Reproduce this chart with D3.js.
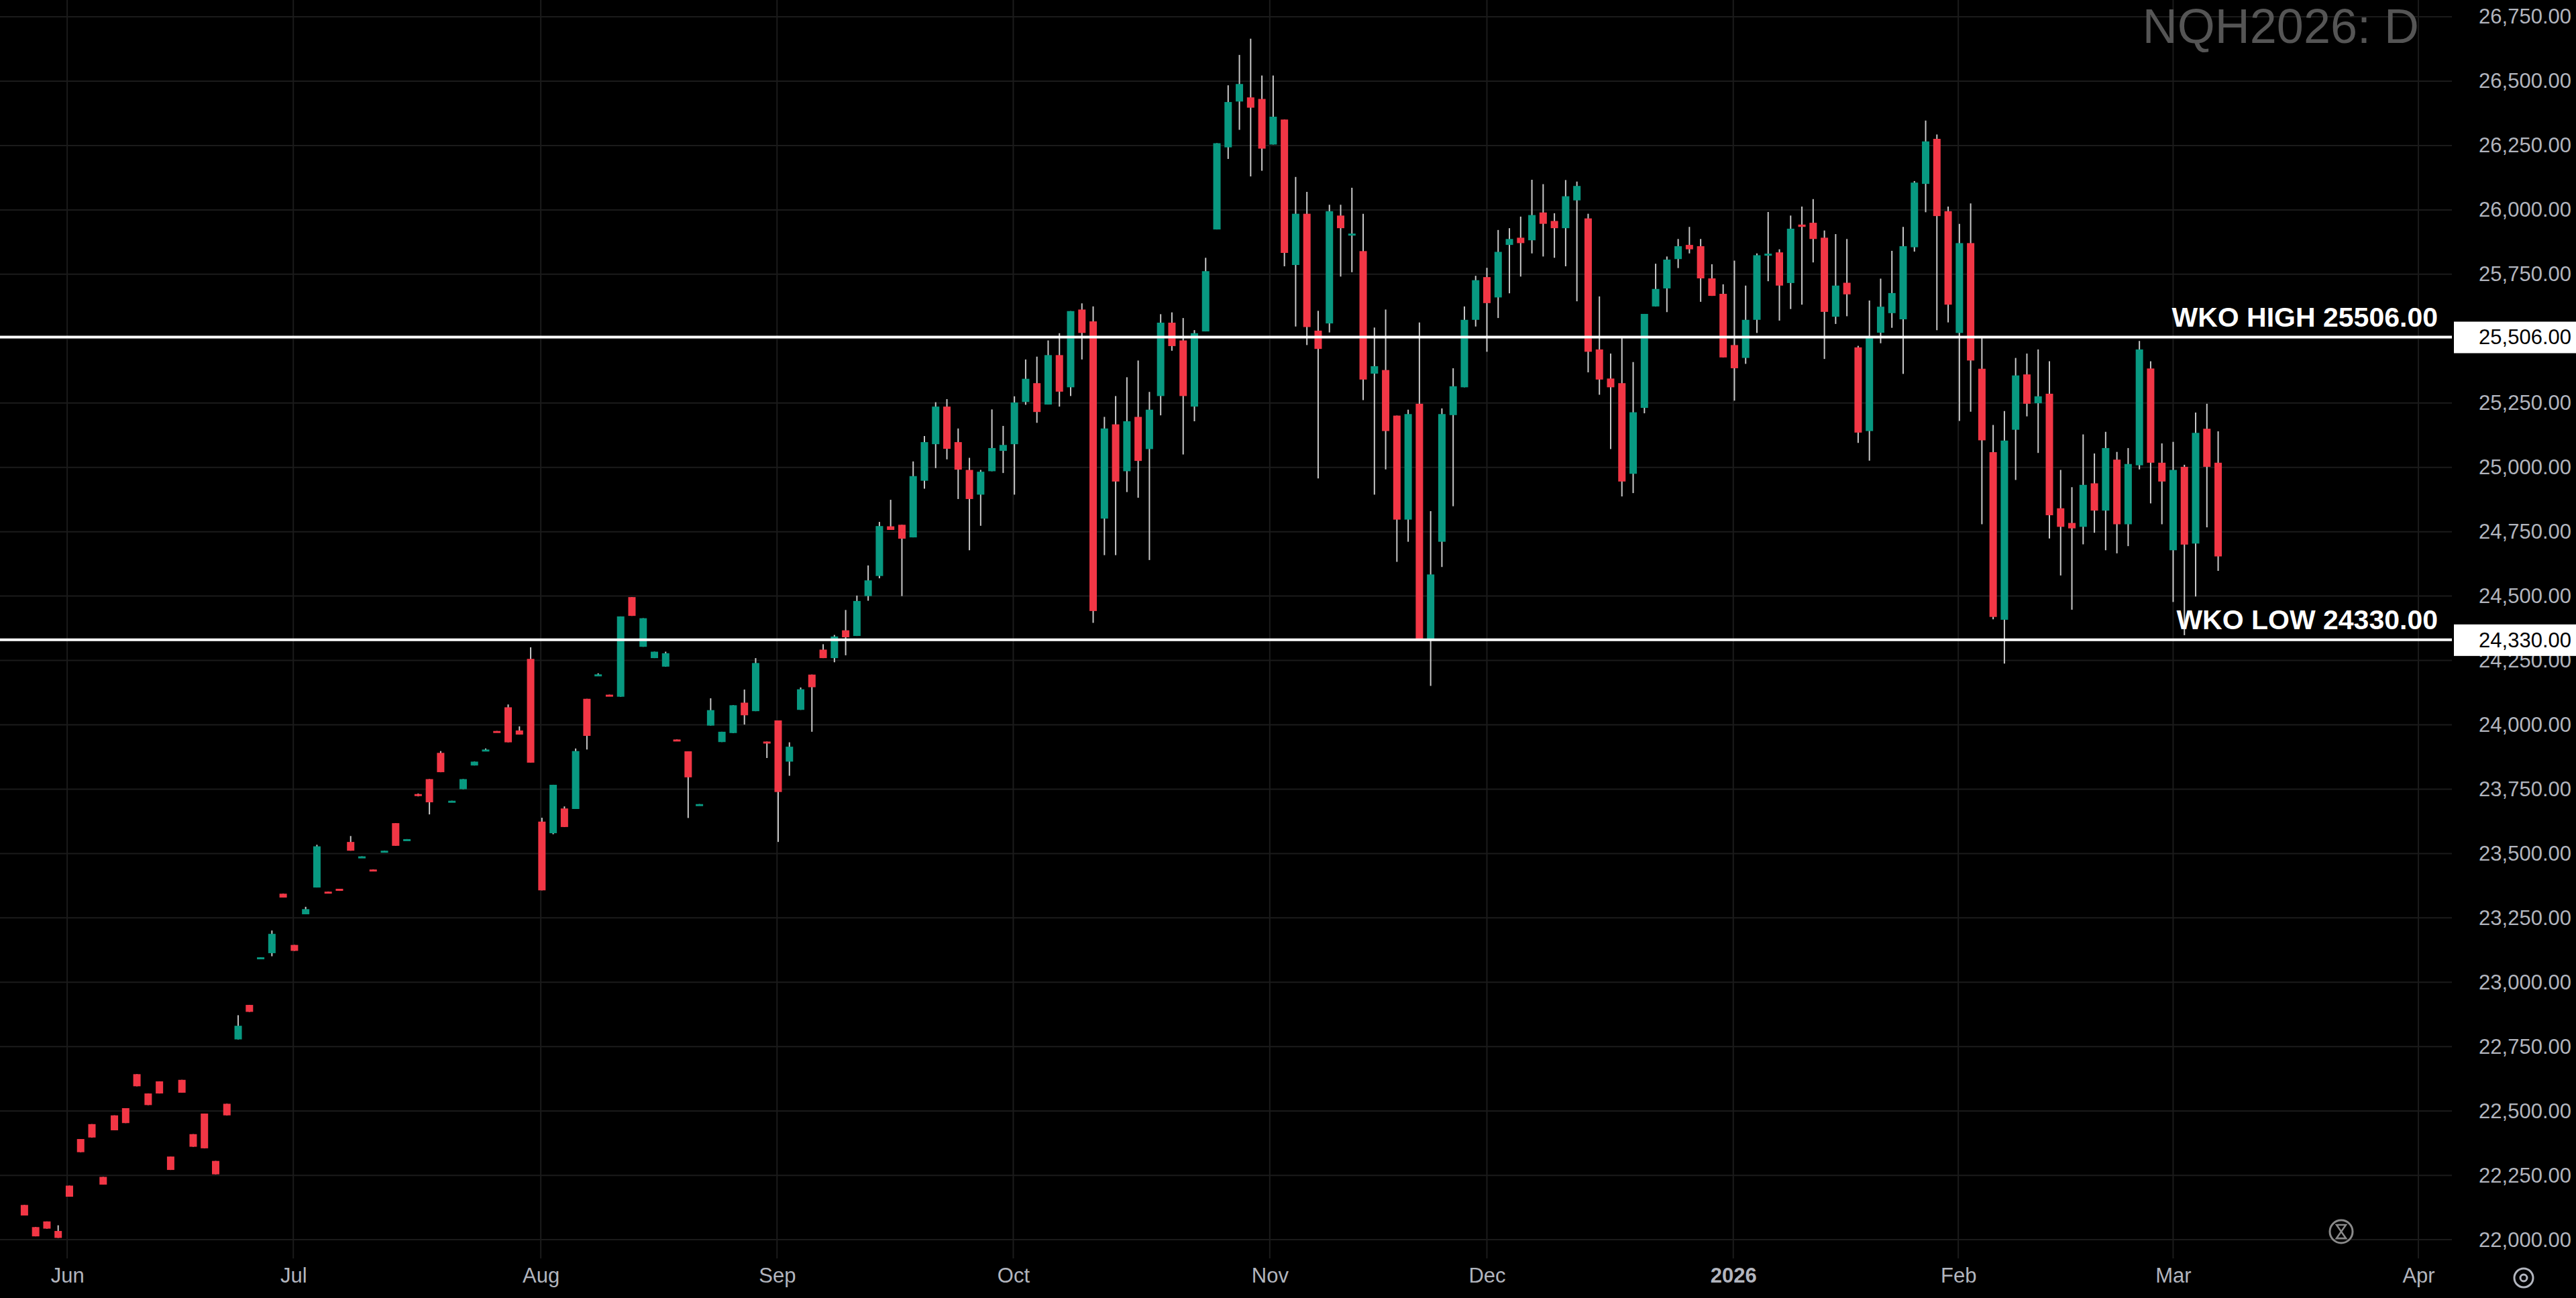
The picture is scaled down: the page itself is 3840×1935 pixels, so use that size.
<!DOCTYPE html>
<html>
<head>
<meta charset="utf-8">
<script src="https://cdn.jsdelivr.net/npm/d3@7"></script>
<style>
  html, body { margin: 0; padding: 0; background: #000; overflow: hidden; }
  svg { display: block; }
</style>
</head>
<body>
<svg id="chart" width="3840" height="1935"></svg>
<script>
// daily bars, NQH2026 (index 0 = first visible bar)
const opens = [22135,22049,22071,22034,22210,22391,22449,22244,22483,22511,22643,22568,22615,22323,22621,22410,22490,22306,22528,22778,
  22912,23094,23113,23344,23145,23264,23368,23352,23363,23545,23485,23438,23507,23618,23552,23731,23789,23891,23701,23750,
  23842,23900,23976,24068,23978,24256,23624,23579,23675,23673,24101,24192,24117,24109,24496,24303,24259,24226,23943,23897,
  23688,23997,23933,23968,24086,24053,23935,24017,23857,24058,24195,24292,24259,24367,24345,24500,24578,24771,24777,24728,
  24948,25090,25236,25098,24990,24894,24985,25064,25090,25254,25327,25244,25436,25311,25613,25567,24801,25167,24985,25196,
  25071,25277,25562,25493,25236,25528,25924,26243,26421,26437,26431,26254,26351,25786,25985,25531,25559,25978,25904,25840,
  25364,25378,25201,24797,25247,24329,24711,25203,25311,25573,25739,25660,25864,25892,25882,25990,25957,25929,26037,25967,
  25458,25345,25327,24975,25231,25625,25695,25809,25864,25859,25734,25674,25475,25425,25573,25826,25835,25716,25943,25950,
  25892,25585,25717,25466,25141,25523,25599,25575,25855,26101,26276,25995,25522,25871,25383,25059,24408,25146,25361,25249,
  25286,24841,24784,24769,24938,24832,25030,24779,25008,25384,25018,24678,25002,24704,25150,25018];
const highs = [22135,22049,22071,22056,22210,22391,22449,22244,22483,22511,22643,22568,22615,22323,22621,22410,22490,22306,22528,22872,
  22912,23097,23201,23344,23145,23293,23534,23352,23363,23568,23489,23438,23511,23618,23556,23733,23789,23898,23705,23789,
  23857,23908,23976,24079,23994,24301,23639,23767,23683,23908,24101,24200,24117,24421,24496,24414,24284,24284,23943,23897,
  23692,24103,23973,24076,24137,24259,23935,24017,23932,24145,24195,24313,24349,24446,24502,24619,24788,24874,24777,25023,
  25122,25253,25265,25151,25037,24990,25225,25161,25276,25419,25430,25493,25521,25607,25637,25625,25196,25277,25350,25415,
  25293,25595,25602,25580,25533,25814,26259,26484,26602,26665,26522,26522,26351,26128,26070,25608,26020,26020,26086,25985,
  25543,25613,25201,25224,25563,24830,25229,25385,25625,25744,25775,25922,25929,25974,26117,26100,25987,26116,26110,25985,
  25664,25442,25507,25409,25596,25791,25819,25887,25934,25887,25789,25711,25803,25706,25831,25992,25847,25978,26013,26042,
  25920,25906,25887,25472,25648,25733,25841,25934,26112,26347,26293,26013,25946,26025,25509,25165,25219,25425,25442,25458,
  25412,24990,24923,25128,25054,25138,25060,25075,25491,25412,25093,25099,25010,25213,25247,25140];
const lows = [22094,22013,22043,22007,22167,22340,22397,22214,22425,22453,22596,22523,22568,22271,22571,22361,22355,22254,22483,22778,
  22885,23094,23101,23329,23122,23264,23368,23346,23355,23511,23485,23434,23507,23530,23552,23722,23652,23816,23701,23750,
  23842,23900,23972,23932,23962,23853,23357,23575,23603,23673,23904,24190,24113,24109,24423,24303,24259,24226,23939,23638,
  23688,23997,23933,23968,24001,24053,23871,23545,23802,24058,23973,24259,24243,24270,24345,24482,24569,24757,24500,24728,
  24917,24997,25031,24877,24678,24773,24985,24978,24894,25243,25173,25244,25236,25277,25419,24396,24659,24659,24904,24882,
  24640,25202,25453,25050,25179,25528,25924,26198,26311,26130,26152,26254,25781,25547,25475,24957,25524,25741,25758,25261,
  24894,24992,24633,24711,24329,24151,24613,24849,25311,25547,25449,25580,25676,25741,25831,25819,25814,25781,25645,25369,
  25282,25071,24887,24900,25210,25625,25603,25774,25831,25643,25666,25427,25259,25402,25522,25723,25570,25615,25632,25796,
  25421,25557,25587,25095,25026,25482,25542,25363,25838,25991,25533,25563,25180,25216,24779,24410,24238,24951,25198,25056,
  24724,24580,24447,24701,24746,24678,24666,24694,24992,24860,24779,24477,24348,24498,24767,24598];
const closes = [22094,22013,22043,22007,22167,22340,22397,22214,22425,22453,22596,22523,22568,22271,22571,22361,22355,22254,22483,22831,
  22885,23097,23188,23329,23122,23284,23528,23346,23355,23511,23489,23434,23511,23530,23556,23726,23699,23816,23705,23789,
  23857,23904,23972,23932,23962,23853,23357,23767,23603,23898,23957,24196,24113,24421,24423,24414,24284,24278,23939,23796,
  23692,24057,23973,24076,24037,24240,23931,23739,23915,24138,24146,24259,24343,24340,24481,24561,24772,24757,24723,24966,
  25098,25236,25072,24991,24877,24983,25075,25087,25252,25344,25215,25436,25294,25607,25522,24442,25151,24945,25179,25025,
  25224,25562,25471,25277,25521,25762,26259,26419,26489,26397,26238,26362,25833,25985,25545,25460,25995,25929,25908,25341,
  25393,25141,24797,25207,24329,24584,25207,25315,25573,25727,25638,25837,25887,25871,25980,25946,25929,26053,26093,25449,
  25341,25311,24945,25214,25596,25693,25807,25859,25847,25734,25666,25427,25385,25573,25824,25830,25706,25927,25934,25887,
  25604,25706,25672,25135,25503,25624,25677,25859,26106,26266,25976,25632,25871,25415,25105,24419,25104,25357,25247,25276,
  24814,24769,24763,24932,24832,25075,24779,25013,25458,25018,24945,24990,24700,25134,25002,24654];

const monthLabels = ["Jun","Jul","Aug","Sep","Oct","Nov","Dec","2026","Feb","Mar","Apr"];
const monthTickBars = [3.8, 23.9, 45.9, 66.9, 87.9, 110.7, 130, 151.9, 171.9, 191, 212.8];
const priceTicks = d3.range(22000, 26751, 250);
const levels = [
  { name: "WKO HIGH", price: 25506 },
  { name: "WKO LOW", price: 24330 },
];
const title = "NQH2026: D";

const W = 3840, H = 1935;
const plotRight = 3655, plotBottom = 1876;
const UP = "#089981", DOWN = "#f23645";

const svg = d3.select("#chart");
svg.append("rect").attr("width", W).attr("height", H).attr("fill", "#000");

const x = d3.scaleLinear().domain([0, 195]).range([36.4, 36.4 + 195 * 16.77]);
const y = d3.scaleLinear().domain([22000, 26750]).range([1848.1, 25.06]);

// grid
svg.append("g").selectAll("line").data(priceTicks).join("line")
  .attr("x1", 0).attr("x2", plotRight)
  .attr("y1", d => y(d)).attr("y2", d => y(d))
  .attr("stroke", "#1b1b1b").attr("stroke-width", 2);
svg.append("g").selectAll("line").data(monthTickBars).join("line")
  .attr("x1", d => x(d)).attr("x2", d => x(d))
  .attr("y1", 0).attr("y2", plotBottom)
  .attr("stroke", "#1b1b1b").attr("stroke-width", 2);

// title
svg.append("text")
  .attr("x", 3606).attr("y", 64)
  .attr("text-anchor", "end")
  .attr("font-family", "Liberation Sans, Arial, sans-serif")
  .attr("font-size", 72)
  .attr("fill", "#555555")
  .text(title);

// candles
const bars = d3.range(opens.length);
const candle = svg.append("g").selectAll("g").data(bars).join("g");
candle.append("line")
  .attr("x1", i => x(i)).attr("x2", i => x(i))
  .attr("y1", i => y(highs[i])).attr("y2", i => y(lows[i]))
  .attr("stroke", "#c8c8c8").attr("stroke-width", 2);
candle.append("rect")
  .attr("x", i => x(i) - 5.5)
  .attr("width", 11)
  .attr("y", i => y(Math.max(opens[i], closes[i])))
  .attr("height", i => Math.max(3, Math.abs(y(opens[i]) - y(closes[i]))))
  .attr("fill", i => closes[i] >= opens[i] ? UP : DOWN);

// level lines
const lv = svg.append("g").selectAll("g").data(levels).join("g");
lv.append("line")
  .attr("x1", 0).attr("x2", plotRight)
  .attr("y1", d => y(d.price)).attr("y2", d => y(d.price))
  .attr("stroke", "#fff").attr("stroke-width", 4);
lv.append("text")
  .attr("x", 3634).attr("y", d => y(d.price) - 16)
  .attr("text-anchor", "end")
  .attr("font-family", "Liberation Sans, Arial, sans-serif")
  .attr("font-weight", "bold").attr("font-size", 41)
  .attr("fill", "#fff")
  .text(d => `${d.name} ${d.price.toFixed(2)}`);

// price axis
const yAxis = svg.append("g")
  .attr("transform", "translate(3833,0)")
  .call(d3.axisLeft(y).tickValues(priceTicks).tickSize(0).tickPadding(0)
    .tickFormat(d => d3.format(",.2f")(d)));
yAxis.select(".domain").remove();
yAxis.selectAll("text")
  .attr("font-family", "Liberation Sans, Arial, sans-serif")
  .attr("font-size", 31).attr("fill", "#b2b5be");

// level price boxes on the axis
const tag = svg.append("g").selectAll("g").data(levels).join("g");
tag.append("rect")
  .attr("x", 3658).attr("width", 182)
  .attr("y", d => y(d.price) - 23).attr("height", 47)
  .attr("fill", "#fff");
tag.append("text")
  .attr("x", 3833).attr("y", d => y(d.price))
  .attr("dy", "0.35em")
  .attr("text-anchor", "end")
  .attr("font-family", "Liberation Sans, Arial, sans-serif")
  .attr("font-size", 31).attr("fill", "#000")
  .text(d => d3.format(",.2f")(d.price));

// time axis
const xAxis = svg.append("g")
  .attr("transform", `translate(0,${plotBottom})`)
  .call(d3.axisBottom(x).tickValues(monthTickBars).tickSize(0).tickPadding(14)
    .tickFormat((d, i) => monthLabels[i]));
xAxis.select(".domain").remove();
xAxis.selectAll("text")
  .attr("font-family", "Liberation Sans, Arial, sans-serif")
  .attr("font-size", 31).attr("fill", "#b2b5be")
  .attr("font-weight", (d, i) => monthLabels[i] === "2026" ? "bold" : null);

// small icons bottom right
svg.append("circle").attr("cx", 3490).attr("cy", 1836).attr("r", 17)
  .attr("fill", "none").attr("stroke", "#8a8a8a").attr("stroke-width", 3);
svg.append("path").attr("d", "M3483,1826 h14 l-14,20 h14 z")
  .attr("fill", "none").attr("stroke", "#8a8a8a").attr("stroke-width", 2.5);
svg.append("circle").attr("cx", 3762).attr("cy", 1905).attr("r", 14)
  .attr("fill", "none").attr("stroke", "#b2b5be").attr("stroke-width", 3);
svg.append("circle").attr("cx", 3762).attr("cy", 1905).attr("r", 5)
  .attr("fill", "none").attr("stroke", "#b2b5be").attr("stroke-width", 3);
</script>
</body>
</html>
